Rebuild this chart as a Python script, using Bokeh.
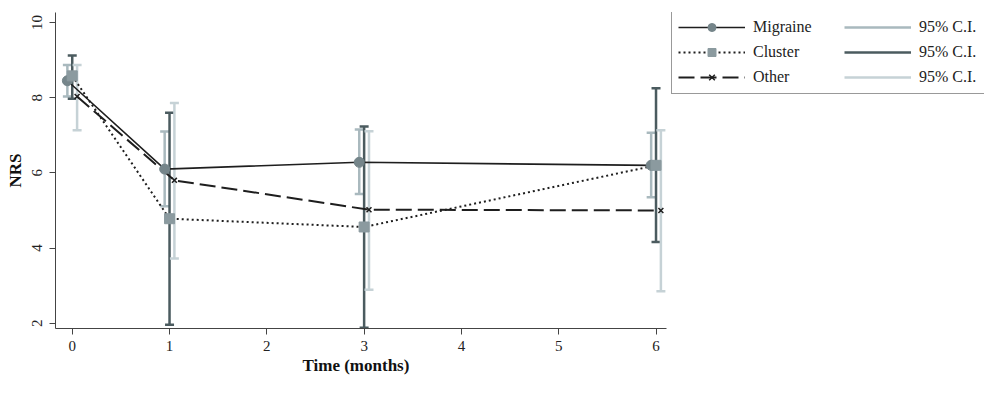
from bokeh.plotting import figure
from bokeh.models import ColumnDataSource, Legend, LegendItem, Range1d, FixedTicker, Title
from bokeh.embed import file_html
from bokeh.resources import INLINE

# ---- data ----
months = [0, 1, 3, 6]
x_ticks = [0, 1, 2, 3, 4, 5, 6]
y_ticks = [2, 4, 6, 8, 10]

migraine_mean = [8.45, 6.10, 6.28, 6.20]
migraine_lo = [8.03, 5.11, 5.44, 5.35]
migraine_hi = [8.87, 7.10, 7.15, 7.07]

cluster_mean = [8.58, 4.78, 4.56, 6.20]
cluster_lo = [7.97, 1.96, 1.88, 4.16]
cluster_hi = [9.12, 7.60, 7.23, 8.25]

other_mean = [8.03, 5.80, 5.02, 5.00]
other_lo = [7.13, 3.72, 2.89, 2.85]
other_hi = [8.87, 7.86, 7.11, 7.13]

FONT = "Liberation Serif"
LINE_C = "#1e1e1e"

FRAME_BOTTOM = 328  # px from top
PX_PER_Y = 37.6

p = figure(width=984, height=377, output_backend="svg", toolbar_location=None,
           x_range=Range1d(-0.172, 9.376),
           y_range=Range1d(2 - (FRAME_BOTTOM - 322.7) / PX_PER_Y, 10.0 + 10 / PX_PER_Y),
           min_border_left=55, min_border_right=0, min_border_top=12,
           min_border_bottom=377 - FRAME_BOTTOM)
p.outline_line_color = None
p.grid.visible = False
p.background_fill_color = "white"

for ax in (p.xaxis[0], p.yaxis[0]):
    ax.major_label_text_font = FONT
    ax.major_label_text_font_size = "15px"
    ax.major_label_text_color = "#222222"
    ax.axis_line_color = "#444444"
    ax.major_tick_line_color = "#444444"
    ax.minor_tick_line_color = None
    ax.major_tick_in = 0
    ax.major_tick_out = 6
    ax.axis_label_text_font = FONT
    ax.axis_label_text_font_style = "bold"
    ax.axis_label_text_font_size = "17px"
    ax.axis_label_text_color = "#111111"

p.xaxis.ticker = FixedTicker(ticks=x_ticks)
p.yaxis.ticker = FixedTicker(ticks=y_ticks)
p.xaxis.bounds = (-0.172, 6.103)
p.yaxis.axis_label = "NRS"
p.yaxis.major_label_orientation = "vertical"
p.xaxis.major_label_standoff = 6
p.yaxis.major_label_standoff = 7
p.yaxis.axis_label_standoff = 5

# x-axis title, centred under the axis (not the whole frame)
xt = Title(text="Time (months)", align="left", offset=302 - 55,
           text_font=FONT, text_font_style="bold", text_font_size="17px",
           text_color="#111111", standoff=1)
p.add_layout(xt, "below")


def series(mean, lo, hi, off, ci_color):
    xs = [m + off for m in months]
    src = ColumnDataSource(dict(x=xs, y=mean, lo=lo, hi=hi))
    ci = p.segment(x0="x", y0="lo", x1="x", y1="hi", source=src,
                   line_color=ci_color, line_width=2.5)
    p.scatter(x="x", y="lo", source=src, marker="dash", size=9,
              line_color=ci_color, line_width=2.5)
    p.scatter(x="x", y="hi", source=src, marker="dash", size=9,
              line_color=ci_color, line_width=2.5)
    return src, ci


m_src, m_ci = series(migraine_mean, migraine_lo, migraine_hi, -0.05, "#a9b9be")
c_src, c_ci = series(cluster_mean, cluster_lo, cluster_hi, 0.0, "#4b5b5f")
o_src, o_ci = series(other_mean, other_lo, other_hi, 0.05, "#c6d2d6")

m_line = p.line(x="x", y="y", source=m_src, line_color=LINE_C, line_width=1.6)
c_line = p.line(x="x", y="y", source=c_src, line_color=LINE_C, line_width=2,
                line_dash="2 3")
o_line = p.line(x="x", y="y", source=o_src, line_color=LINE_C, line_width=2,
                line_dash="16 6")

m_mk = p.scatter(x="x", y="y", source=m_src, marker="circle", size=10,
                 fill_color="#75858a", line_color="#75858a")
c_mk = p.scatter(x="x", y="y", source=c_src, marker="square", size=10,
                 fill_color="#8b9a9f", line_color="#8b9a9f")
o_mk = p.scatter(x="x", y="y", source=o_src, marker="x", size=7,
                 line_color=LINE_C, line_width=1.5)

LEG_PAD, LEG_SP, LEG_ROW = 6, 5, 20
leg_h = 2 * LEG_PAD + 3 * LEG_ROW + 2 * LEG_SP
legend = Legend(items=[
    LegendItem(label="Migraine", renderers=[m_line, m_mk]),
    LegendItem(label="Cluster", renderers=[c_line, c_mk]),
    LegendItem(label="Other", renderers=[o_line, o_mk]),
    LegendItem(label="95% C.I.", renderers=[m_ci]),
    LegendItem(label="95% C.I.", renderers=[c_ci]),
    LegendItem(label="95% C.I.", renderers=[o_ci]),
], location=(616, FRAME_BOTTOM - 12 - leg_h), orientation="vertical", ncols=2)
legend.label_text_font = FONT
legend.label_text_font_size = "16px"
legend.label_text_color = "#222222"
legend.glyph_width = 67
legend.glyph_height = LEG_ROW
legend.label_height = LEG_ROW
legend.label_width = 86
legend.label_standoff = 8
legend.spacing = LEG_SP
legend.padding = LEG_PAD
legend.margin = 0
legend.border_line_color = "#333333"
legend.border_line_width = 1
legend.background_fill_color = "white"
legend.background_fill_alpha = 1.0
p.add_layout(legend)

open("out.html", "w").write(file_html(p, INLINE))
